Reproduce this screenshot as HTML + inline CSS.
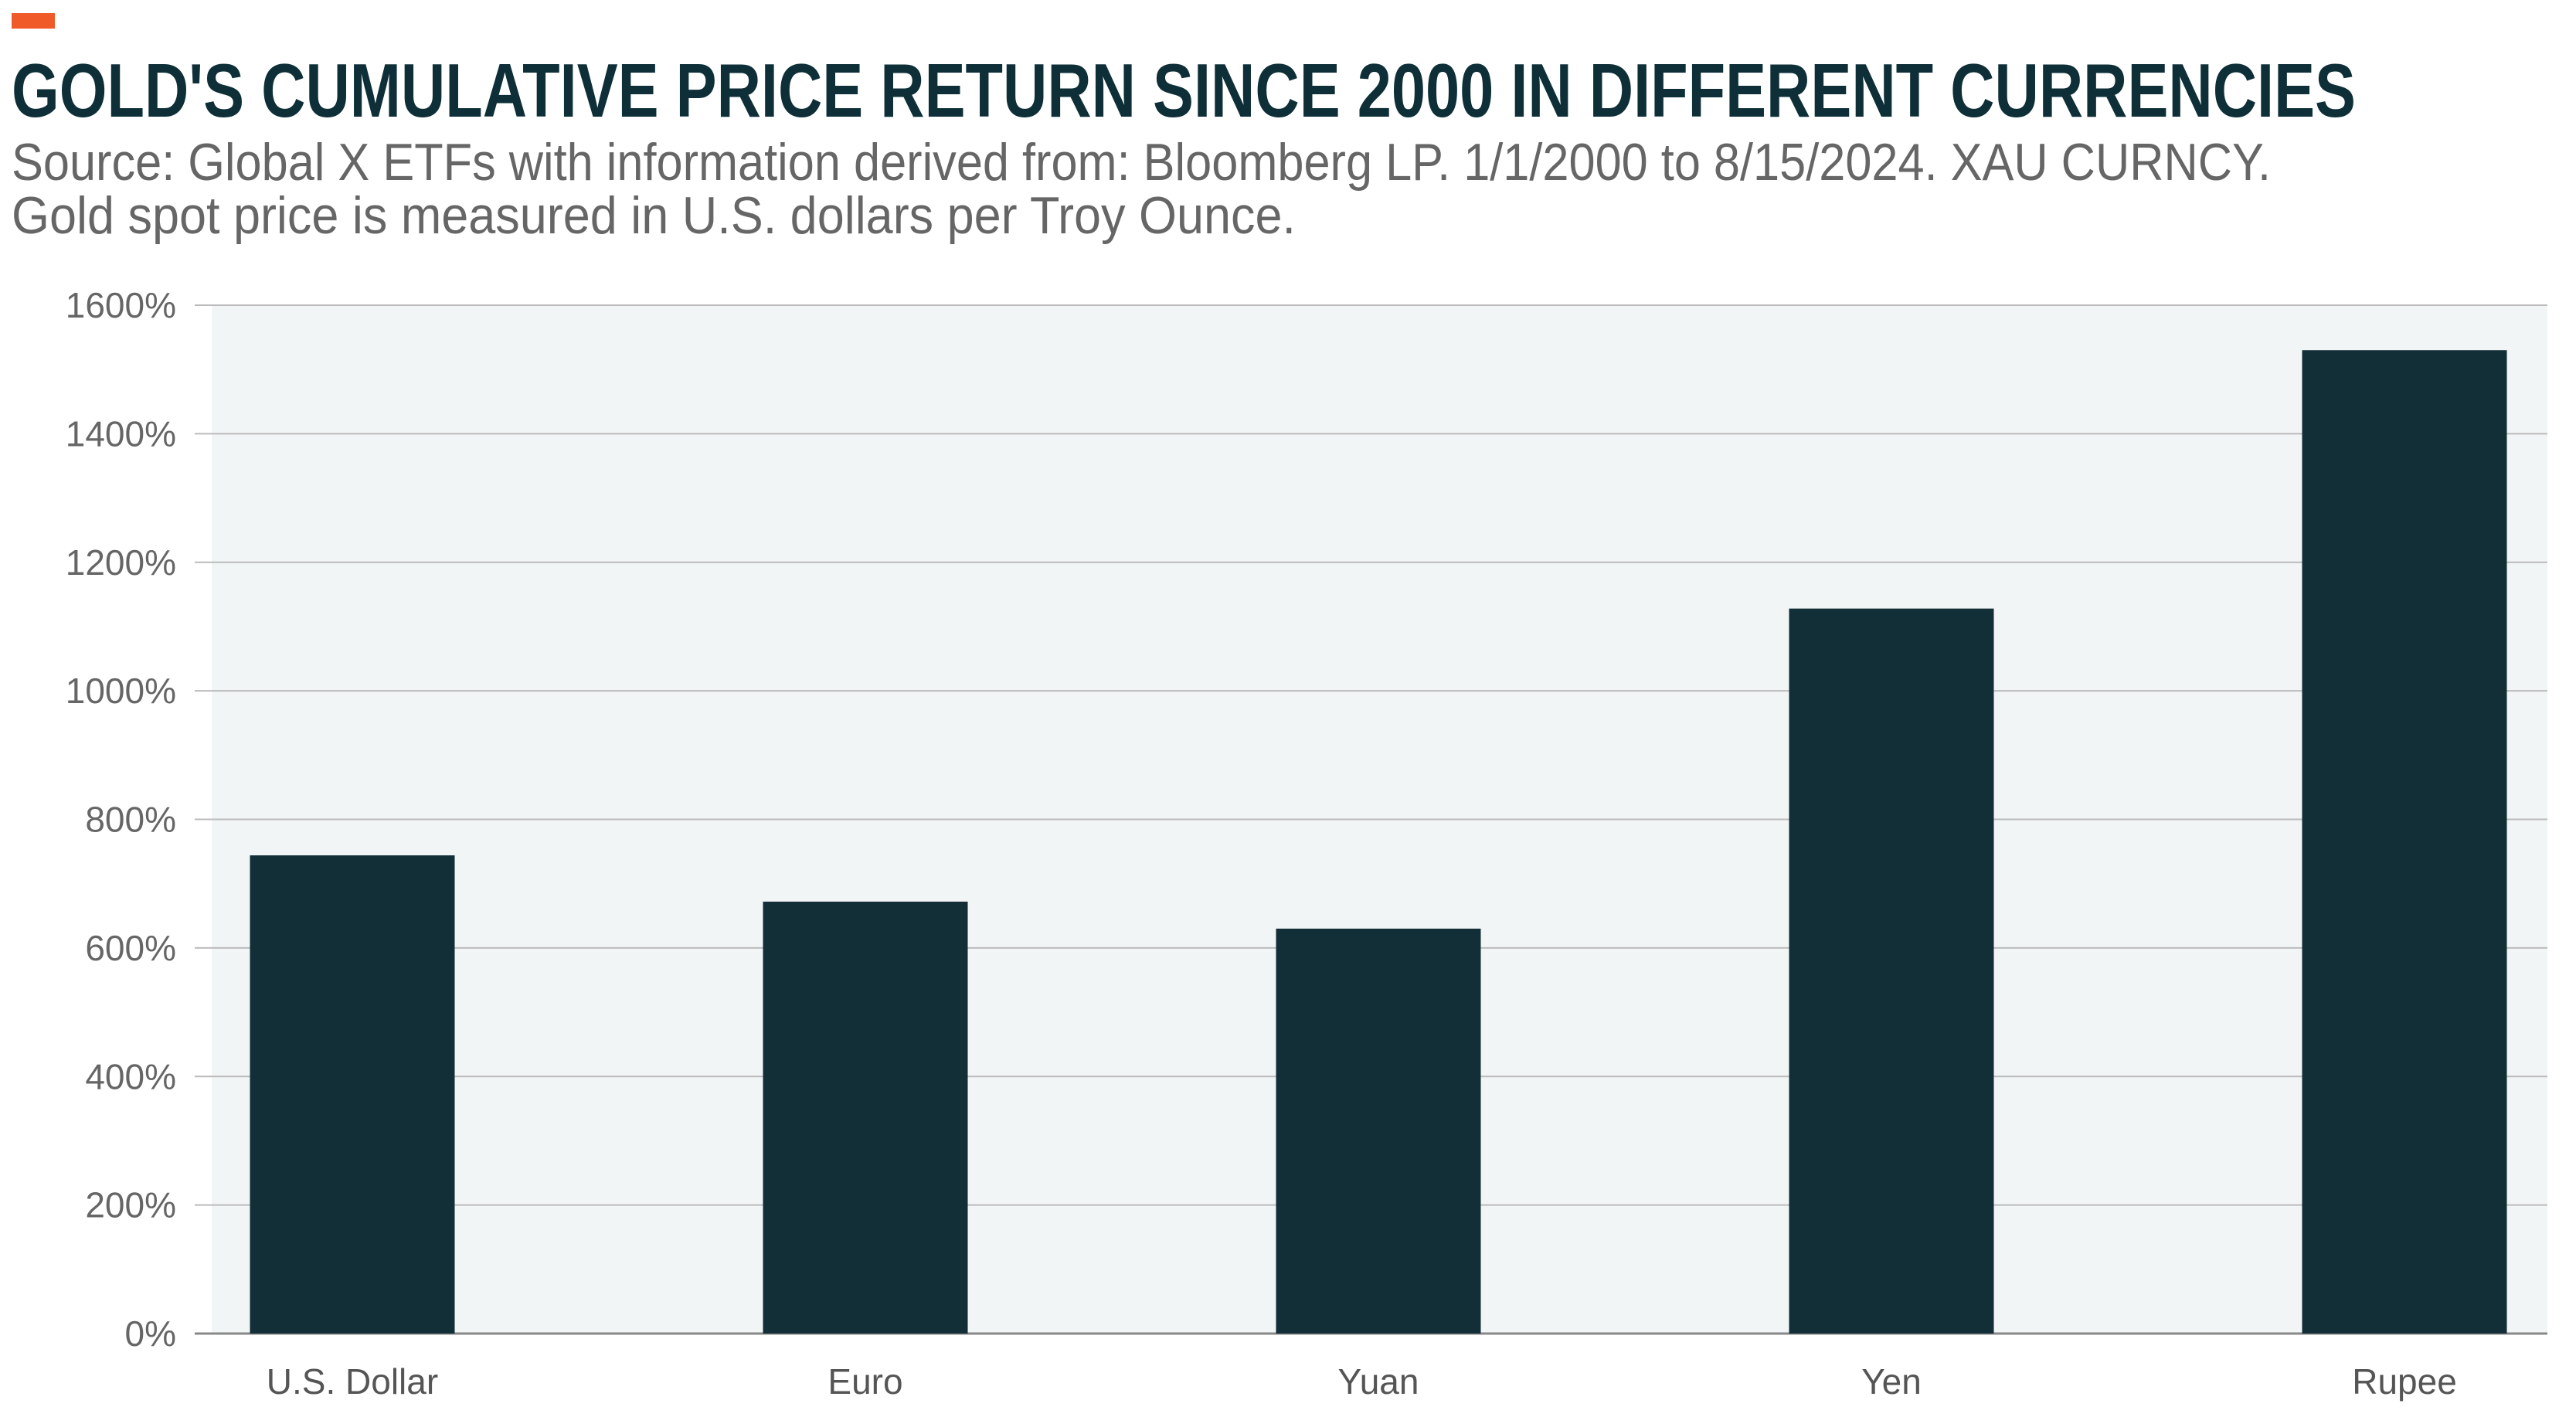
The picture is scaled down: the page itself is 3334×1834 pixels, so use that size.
<!DOCTYPE html>
<html><head><meta charset="utf-8"><style>
html,body{margin:0;padding:0;background:#fff;}
svg{display:block;font-family:"Liberation Sans Narrow","Liberation Sans",sans-serif;}
</style></head><body>
<svg id="chart" width="3334" height="1834" viewBox="0 0 3334 1834">
<rect x="15" y="17" width="56" height="20" fill="#f05a28"/>
<text x="15" y="151" font-size="98" font-weight="bold" fill="#0e2f38" textLength="3034" lengthAdjust="spacingAndGlyphs">GOLD'S CUMULATIVE PRICE RETURN SINCE 2000 IN DIFFERENT CURRENCIES</text>
<text x="15" y="233" font-size="68" fill="#666" textLength="2924" lengthAdjust="spacingAndGlyphs">Source: Global X ETFs with information derived from: Bloomberg LP. 1/1/2000 to 8/15/2024. XAU CURNCY.</text>
<text x="15" y="302" font-size="68" fill="#666" textLength="1662" lengthAdjust="spacingAndGlyphs">Gold spot price is measured in U.S. dollars per Troy Ounce.</text>
<rect x="274" y="395" width="3023" height="1331" fill="#f2f5f6"/>
<g id="grid"></g><g id="bars"></g><g id="labels"></g>
</svg>
<script>
const categories = ["U.S. Dollar","Euro","Yuan","Yen","Rupee"];
const values = [744, 672, 630, 1128, 1530];
const ticks = [0,200,400,600,800,1000,1200,1400,1600];
const tickLabels = ["0%","200%","400%","600%","800%","1000%","1200%","1400%","1600%"];
const NS="http://www.w3.org/2000/svg";
const y0=1726, y1=395, vmax=1600;
function yScale(v){return y0-(v/vmax)*(y0-y1);}
function xScale(i){return 456+i*664;}
const bw=265;
const grid=document.getElementById('grid'), bars=document.getElementById('bars'), labels=document.getElementById('labels');
ticks.forEach((t,i)=>{
  const l=document.createElementNS(NS,'line');
  l.setAttribute('x1',252);l.setAttribute('x2',3297);
  l.setAttribute('y1',yScale(t));l.setAttribute('y2',yScale(t));
  l.setAttribute('stroke',t===0?'#888':'#bbb');l.setAttribute('stroke-width',t===0?3:2);
  
  
  grid.appendChild(l);
  const tx=document.createElementNS(NS,'text');
  tx.setAttribute('x',228);tx.setAttribute('y',yScale(t)+16);
  tx.setAttribute('text-anchor','end');tx.setAttribute('font-size','46');tx.setAttribute('fill','#666');
  tx.textContent=tickLabels[i];
  
  
  labels.appendChild(tx);
});
categories.forEach((c,i)=>{
  const r=document.createElementNS(NS,'rect');
  r.setAttribute('x',xScale(i)-bw/2);r.setAttribute('width',bw);
  r.setAttribute('y',yScale(values[i]));r.setAttribute('height',y0-yScale(values[i]));
  r.setAttribute('fill','#122e37');
  
  
  bars.appendChild(r);
  const tx=document.createElementNS(NS,'text');
  tx.setAttribute('x',xScale(i));tx.setAttribute('y',1804);
  tx.setAttribute('text-anchor','middle');tx.setAttribute('font-size','46');tx.setAttribute('fill','#555');
  tx.textContent=c;
  
  
  labels.appendChild(tx);
});
</script>
</body></html>
